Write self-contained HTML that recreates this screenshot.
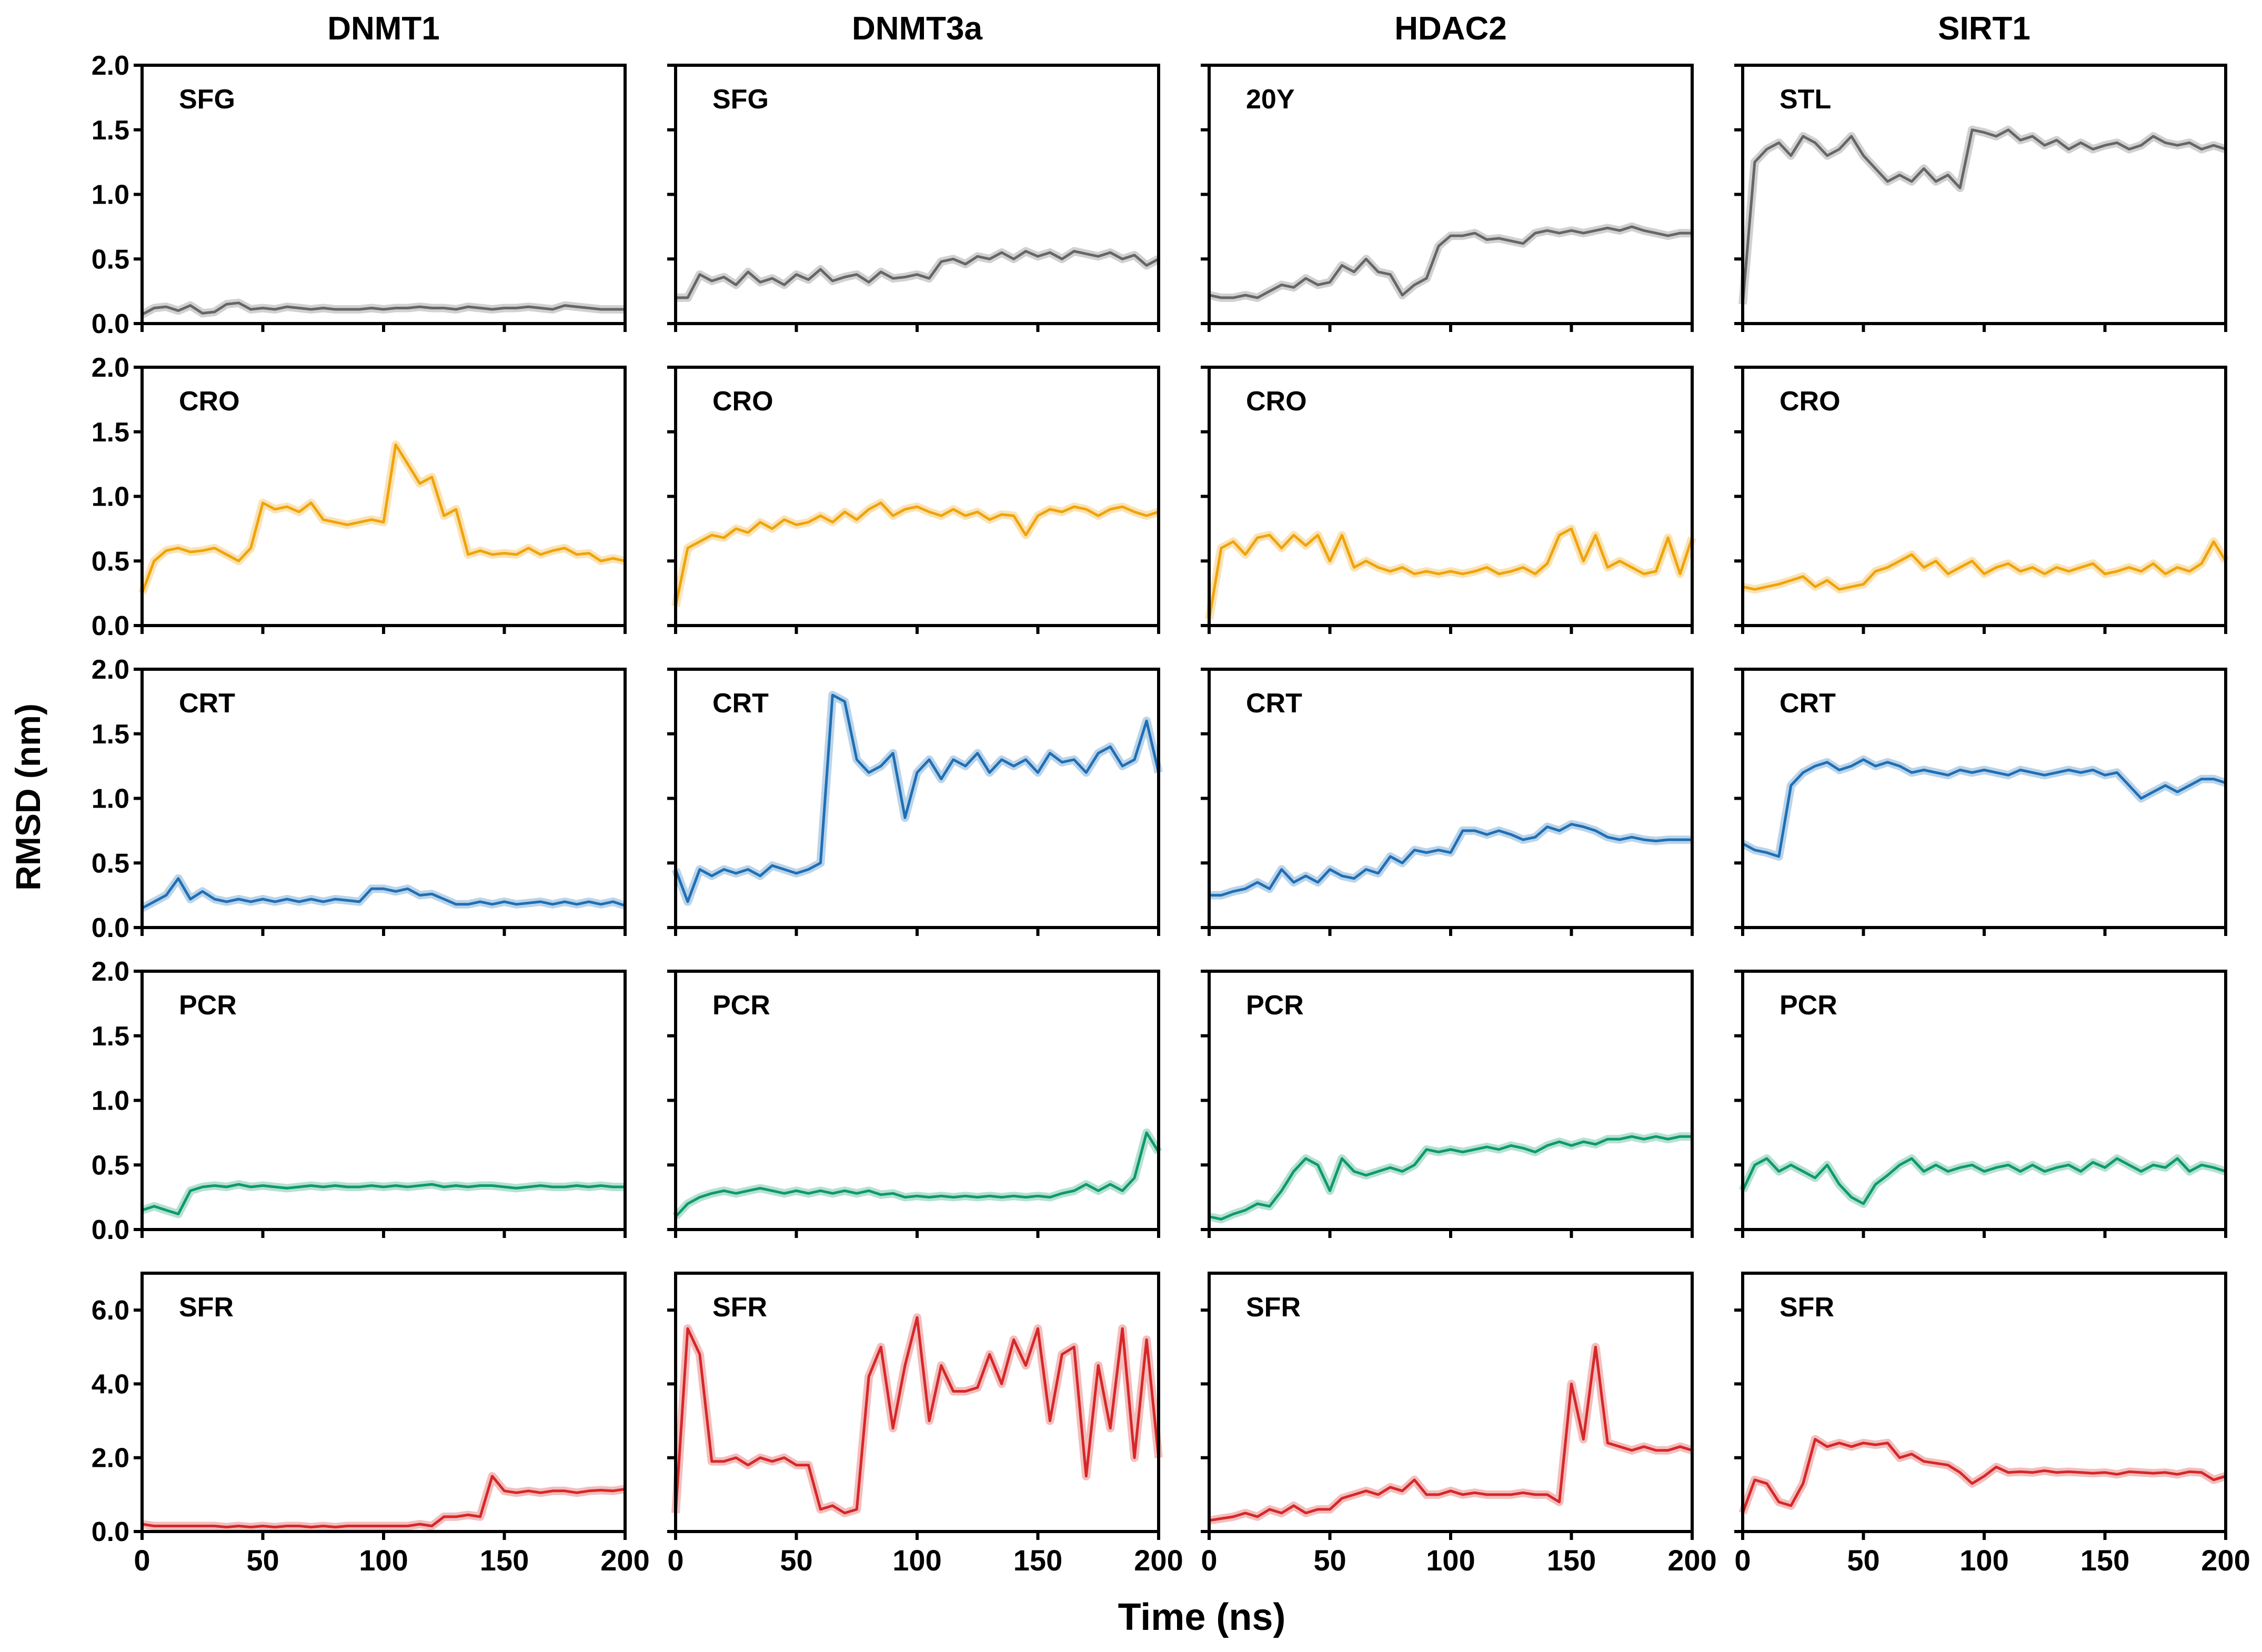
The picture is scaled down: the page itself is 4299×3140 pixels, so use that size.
<!DOCTYPE html>
<html><head><meta charset="utf-8"><style>
html,body{margin:0;padding:0;background:#fff;}
svg{display:block;font-family:"Liberation Sans",Arial,sans-serif;font-weight:bold;}
</style></head><body>
<svg id="fig" width="4299" height="3140" viewBox="0 0 4299 3140" xmlns="http://www.w3.org/2000/svg"></svg>
<script>
const columns = ["DNMT1","DNMT3a","HDAC2","SIRT1"];
const rowColors = ["#666666","#f0a30a","#1f6fb5","#0e9a6a","#d62728"];
const rowMax = [2,2,2,2,7];
const yTicksSmall = [0,0.5,1.0,1.5,2.0];
const yTickLabelsSmall = ["0.0","0.5","1.0","1.5","2.0"];
const yTicksBig = [0,2,4,6];
const yTickLabelsBig = ["0.0","2.0","4.0","6.0"];
const xTicks = [0,50,100,150,200];
const xTickLabels = ["0","50","100","150","200"];
const panelLabels = [["SFG","SFG","20Y","STL"],["CRO","CRO","CRO","CRO"],["CRT","CRT","CRT","CRT"],["PCR","PCR","PCR","PCR"],["SFR","SFR","SFR","SFR"]];

const r0c0 = [0.07,0.12,0.13,0.10,0.14,0.08,0.09,0.15,0.16,0.11,0.12,0.11,0.13,0.12,0.11,0.12,0.11,0.11,0.11,0.12,0.11,0.12,0.12,0.13,0.12,0.12,0.11,0.13,0.12,0.11,0.12,0.12,0.13,0.12,0.11,0.14,0.13,0.12,0.11,0.11,0.11];
const r0c1 = [0.2,0.2,0.38,0.33,0.36,0.3,0.4,0.32,0.35,0.3,0.38,0.34,0.42,0.33,0.36,0.38,0.32,0.4,0.35,0.36,0.38,0.35,0.48,0.5,0.46,0.52,0.5,0.55,0.5,0.56,0.52,0.55,0.5,0.56,0.54,0.52,0.55,0.5,0.53,0.45,0.5];
const r0c2 = [0.22,0.2,0.2,0.22,0.2,0.25,0.3,0.28,0.35,0.3,0.32,0.45,0.4,0.5,0.4,0.38,0.22,0.3,0.35,0.6,0.68,0.68,0.7,0.65,0.66,0.64,0.62,0.7,0.72,0.7,0.72,0.7,0.72,0.74,0.72,0.75,0.72,0.7,0.68,0.7,0.7];
const r0c3 = [0.15,1.25,1.35,1.4,1.3,1.45,1.4,1.3,1.35,1.45,1.3,1.2,1.1,1.15,1.1,1.2,1.1,1.15,1.05,1.5,1.48,1.45,1.5,1.42,1.45,1.38,1.42,1.35,1.4,1.35,1.38,1.4,1.35,1.38,1.45,1.4,1.38,1.4,1.35,1.38,1.35];
const r1c0 = [0.25,0.5,0.58,0.6,0.57,0.58,0.6,0.55,0.5,0.6,0.95,0.9,0.92,0.88,0.95,0.82,0.8,0.78,0.8,0.82,0.8,1.4,1.25,1.1,1.15,0.85,0.9,0.55,0.58,0.55,0.56,0.55,0.6,0.55,0.58,0.6,0.55,0.56,0.5,0.52,0.5];
const r1c1 = [0.15,0.6,0.65,0.7,0.68,0.75,0.72,0.8,0.75,0.82,0.78,0.8,0.85,0.8,0.88,0.82,0.9,0.95,0.85,0.9,0.92,0.88,0.85,0.9,0.85,0.88,0.82,0.86,0.85,0.7,0.85,0.9,0.88,0.92,0.9,0.85,0.9,0.92,0.88,0.85,0.88];
const r1c2 = [0.05,0.6,0.65,0.55,0.68,0.7,0.6,0.7,0.62,0.7,0.5,0.7,0.45,0.5,0.45,0.42,0.45,0.4,0.42,0.4,0.42,0.4,0.42,0.45,0.4,0.42,0.45,0.4,0.48,0.7,0.75,0.5,0.7,0.45,0.5,0.45,0.4,0.42,0.68,0.4,0.68];
const r1c3 = [0.3,0.28,0.3,0.32,0.35,0.38,0.3,0.35,0.28,0.3,0.32,0.42,0.45,0.5,0.55,0.45,0.5,0.4,0.45,0.5,0.4,0.45,0.48,0.42,0.45,0.4,0.45,0.42,0.45,0.48,0.4,0.42,0.45,0.42,0.48,0.4,0.45,0.42,0.48,0.65,0.5];
const r2c0 = [0.15,0.2,0.25,0.38,0.22,0.28,0.22,0.2,0.22,0.2,0.22,0.2,0.22,0.2,0.22,0.2,0.22,0.21,0.2,0.3,0.3,0.28,0.3,0.25,0.26,0.22,0.18,0.18,0.2,0.18,0.2,0.18,0.19,0.2,0.18,0.2,0.18,0.2,0.18,0.2,0.17];
const r2c1 = [0.45,0.2,0.45,0.4,0.45,0.42,0.45,0.4,0.48,0.45,0.42,0.45,0.5,1.8,1.75,1.3,1.2,1.25,1.35,0.85,1.2,1.3,1.15,1.3,1.25,1.35,1.2,1.3,1.25,1.3,1.2,1.35,1.28,1.3,1.2,1.35,1.4,1.25,1.3,1.6,1.2];
const r2c2 = [0.25,0.25,0.28,0.3,0.35,0.3,0.45,0.35,0.4,0.35,0.45,0.4,0.38,0.45,0.42,0.55,0.5,0.6,0.58,0.6,0.58,0.75,0.75,0.72,0.75,0.72,0.68,0.7,0.78,0.75,0.8,0.78,0.75,0.7,0.68,0.7,0.68,0.67,0.68,0.68,0.68];
const r2c3 = [0.65,0.6,0.58,0.55,1.1,1.2,1.25,1.28,1.22,1.25,1.3,1.25,1.28,1.25,1.2,1.22,1.2,1.18,1.22,1.2,1.22,1.2,1.18,1.22,1.2,1.18,1.2,1.22,1.2,1.22,1.18,1.2,1.1,1.0,1.05,1.1,1.05,1.1,1.15,1.15,1.12];
const r3c0 = [0.15,0.18,0.15,0.12,0.3,0.33,0.34,0.33,0.35,0.33,0.34,0.33,0.32,0.33,0.34,0.33,0.34,0.33,0.33,0.34,0.33,0.34,0.33,0.34,0.35,0.33,0.34,0.33,0.34,0.34,0.33,0.32,0.33,0.34,0.33,0.33,0.34,0.33,0.34,0.33,0.33];
const r3c1 = [0.1,0.2,0.25,0.28,0.3,0.28,0.3,0.32,0.3,0.28,0.3,0.28,0.3,0.28,0.3,0.28,0.3,0.27,0.28,0.25,0.26,0.25,0.26,0.25,0.26,0.25,0.26,0.25,0.26,0.25,0.26,0.25,0.28,0.3,0.35,0.3,0.35,0.3,0.4,0.75,0.6];
const r3c2 = [0.1,0.08,0.12,0.15,0.2,0.18,0.3,0.45,0.55,0.5,0.3,0.55,0.45,0.42,0.45,0.48,0.45,0.5,0.62,0.6,0.62,0.6,0.62,0.64,0.62,0.65,0.63,0.6,0.65,0.68,0.65,0.68,0.66,0.7,0.7,0.72,0.7,0.72,0.7,0.72,0.72];
const r3c3 = [0.3,0.5,0.55,0.45,0.5,0.45,0.4,0.5,0.35,0.25,0.2,0.35,0.42,0.5,0.55,0.45,0.5,0.45,0.48,0.5,0.45,0.48,0.5,0.45,0.5,0.45,0.48,0.5,0.45,0.52,0.48,0.55,0.5,0.45,0.5,0.48,0.55,0.45,0.5,0.48,0.45];
const r4c0 = [0.2,0.15,0.15,0.15,0.15,0.15,0.15,0.12,0.15,0.12,0.15,0.12,0.15,0.15,0.12,0.15,0.12,0.15,0.15,0.15,0.15,0.15,0.15,0.2,0.15,0.4,0.4,0.45,0.4,1.5,1.1,1.05,1.1,1.05,1.1,1.1,1.05,1.1,1.12,1.1,1.15];
const r4c1 = [0.5,5.5,4.8,1.9,1.9,2.0,1.8,2.0,1.9,2.0,1.8,1.8,0.6,0.7,0.5,0.6,4.2,5.0,2.8,4.5,5.8,3.0,4.5,3.8,3.8,3.9,4.8,4.0,5.2,4.5,5.5,3.0,4.8,5.0,1.5,4.5,2.8,5.5,2.0,5.2,2.0];
const r4c2 = [0.3,0.35,0.4,0.5,0.4,0.6,0.5,0.7,0.5,0.6,0.6,0.9,1.0,1.1,1.0,1.2,1.1,1.4,1.0,1.0,1.1,1.0,1.05,1.0,1.0,1.0,1.05,1.0,1.0,0.8,4.0,2.5,5.0,2.4,2.3,2.2,2.3,2.2,2.2,2.3,2.2];
const r4c3 = [0.5,1.4,1.3,0.8,0.7,1.3,2.5,2.3,2.4,2.3,2.4,2.35,2.4,2.0,2.1,1.9,1.85,1.8,1.6,1.3,1.5,1.75,1.6,1.62,1.6,1.65,1.6,1.62,1.6,1.58,1.6,1.55,1.62,1.6,1.58,1.6,1.55,1.62,1.6,1.4,1.5];
const series = [[r0c0,r0c1,r0c2,r0c3],[r1c0,r1c1,r1c2,r1c3],[r2c0,r2c1,r2c2,r2c3],[r3c0,r3c1,r3c2,r3c3],[r4c0,r4c1,r4c2,r4c3]];
const timeStep = 5;

const svg = document.getElementById('fig');
const NS = 'http://www.w3.org/2000/svg';
const colLeft = [270,1284,2298,3312], panelW = 918;
const rowTop = [124,698,1272,1846,2420], panelH = 491;
function mk(tag, attrs, parent){const e=document.createElementNS(NS,tag);for(const k in attrs)e.setAttribute(k,attrs[k]);(parent||svg).appendChild(e);return e;}

columns.forEach((c,ci)=>{
  const t = mk('text',{x:colLeft[ci]+panelW/2,y:75,'text-anchor':'middle','font-size':62});
  t.textContent = c;
  
  
});
const yl = mk('text',{x:0,y:0,'text-anchor':'middle','font-size':66,transform:'translate(76,1515) rotate(-90)'});
yl.textContent='RMSD (nm)';


const xl = mk('text',{x:2284,y:3098,'text-anchor':'middle','font-size':72});
xl.textContent='Time (ns)';



for(let r=0;r<5;r++){
  for(let c=0;c<4;c++){
    const L=colLeft[c], T=rowTop[r], B=T+panelH, R=L+panelW;
    const g = mk('g',{});
    
    
    const xs = v => L + v/200*panelW;
    const ys = v => B - v/rowMax[r]*panelH;
    const data = series[r][c];
    const d = data.map((v,i)=>(i?'L':'M')+xs(i*timeStep).toFixed(1)+','+ys(v).toFixed(1)).join(' ');
    const band = mk('path',{d:d,fill:'none',stroke:rowColors[r],'stroke-opacity':0.3,'stroke-width':16,'stroke-linejoin':'round'},g);
    
    
    const line = mk('path',{d:d,fill:'none',stroke:rowColors[r],'stroke-width':5,'stroke-linejoin':'round'},g);
    
    
    const frame = mk('rect',{x:L,y:T,width:panelW,height:panelH,fill:'none',stroke:'#000','stroke-width':6},g);
    
    
    const lab = mk('text',{x:L+70,y:T+82,'font-size':52},g);
    lab.textContent = panelLabels[r][c];
    
    
    const yt = r===4 ? yTicksBig : yTicksSmall;
    const ytl = r===4 ? yTickLabelsBig : yTickLabelsSmall;
    yt.forEach((v,i)=>{
      const tk = mk('line',{x1:L-16,x2:L,y1:ys(v),y2:ys(v),stroke:'#000','stroke-width':6},g);
      
      
      if(c===0){
        const tl = mk('text',{x:L-24,y:ys(v)+18,'text-anchor':'end','font-size':52},g);
        tl.textContent = ytl[i];
        
        
      }
    });
    xTicks.forEach((v,i)=>{
      const tk = mk('line',{x1:xs(v),x2:xs(v),y1:B,y2:B+16,stroke:'#000','stroke-width':6},g);
      
      
      if(r===4){
        const tl = mk('text',{x:xs(v),y:B+74,'text-anchor':'middle','font-size':56},g);
        tl.textContent = xTickLabels[i];
        
        
      }
    });
  }
}
</script>
</body></html>
